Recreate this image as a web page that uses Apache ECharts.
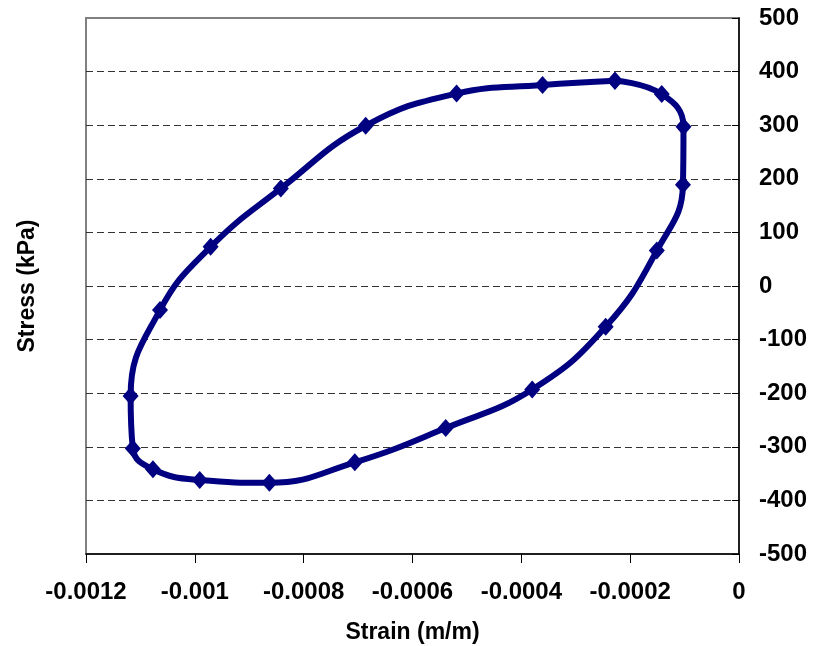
<!DOCTYPE html>
<html>
<head>
<meta charset="utf-8">
<script src="https://cdn.jsdelivr.net/npm/echarts@6/dist/echarts.min.js"></script>
<style>
  html, body { margin: 0; padding: 0; background: #fff; }
  #chart { width: 815px; height: 646px; }
</style>
</head>
<body>
<div id="chart"></div>
<script>
// Hysteresis loop (strain m/m, stress kPa)
const strain = [
    -0.000228, -0.000142, -0.000102, -0.000103, -0.000151, -0.000245,
    -0.000380, -0.000539, -0.000706, -0.000863, -0.000991, -0.001077,
    -0.001114, -0.001118, -0.001064, -0.000971, -0.000842, -0.000686,
    -0.000519, -0.000361, -0.000228
];
const stress = [
    383, 358, 297, 189, 66, -76,
    -193, -265, -329, -367, -362, -342,
    -303, -205, -45, 73, 182, 299,
    359, 375, 383
];

const font = '"Liberation Sans", Arial, sans-serif';
const navy = '#000080';

const chart = echarts.init(document.getElementById('chart'));

const points = strain.map((x, i) => [x, stress[i]]);

chart.setOption({
    animation: false,
    backgroundColor: '#fff',
    textStyle: { fontFamily: font },
    grid: {
        left: 86,
        right: 76,
        top: 18,
        bottom: 92,
        outerBoundsMode: 'none',
        containLabel: false,
        show: true,
        borderColor: '#808080',
        borderWidth: 2
    },
    xAxis: {
        type: 'value',
        min: -0.0012,
        max: 0,
        interval: 0.0002,
        name: 'Strain (m/m)',
        nameLocation: 'middle',
        nameGap: 67,
        nameTextStyle: { color: '#000', fontWeight: 'bold', fontSize: 23, fontFamily: font },
        axisLine: { onZero: false, lineStyle: { color: '#000', width: 1.5 } },
        axisTick: { show: true, inside: false, length: 9, lineStyle: { color: '#000', width: 1 } },
        axisLabel: { color: '#000', fontWeight: 'bold', fontSize: 24, margin: 26, fontFamily: font },
        splitLine: { show: false }
    },
    yAxis: [{
        type: 'value',
        position: 'right',
        min: -500,
        max: 500,
        interval: 100,
        axisLine: { show: true, onZero: false, lineStyle: { color: '#000', width: 1.5 } },
        axisTick: { show: true, inside: true, length: 7, lineStyle: { color: '#000', width: 1 } },
        axisLabel: { color: '#000', fontWeight: 'bold', fontSize: 24, margin: 20, fontFamily: font },
        splitLine: {
            show: true,
            showMinLine: false,
            showMaxLine: false,
            lineStyle: { color: '#333', width: 1, type: [7, 4] }
        }
    }, {
        type: 'value',
        position: 'left',
        min: -500,
        max: 500,
        interval: 100,
        name: 'Stress (kPa)',
        nameLocation: 'middle',
        nameRotate: 90,
        nameGap: 47,
        nameTextStyle: { color: '#000', fontWeight: 'bold', fontSize: 23, fontFamily: font },
        axisLine: { show: false },
        axisTick: { show: false },
        axisLabel: { show: false },
        splitLine: { show: false }
    }],
    series: [{
        type: 'line',
        yAxisIndex: 0,
        data: points,
        smooth: 0.45,
        symbol: 'diamond',
        symbolSize: [16, 18],
        lineStyle: { color: navy, width: 6 },
        itemStyle: { color: navy, borderWidth: 0 }
    }]
});
</script>
</body>
</html>
